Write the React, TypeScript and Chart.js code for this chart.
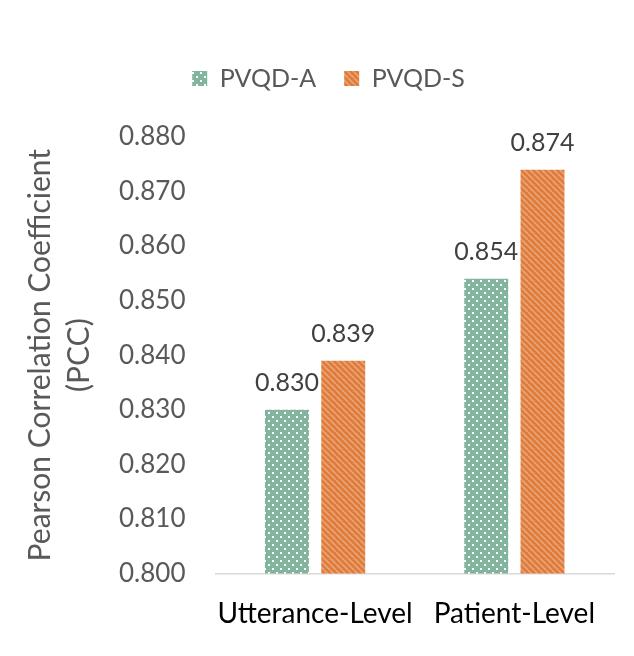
import React, { useEffect, useRef } from "react";
import { Chart, registerables } from "chart.js";

Chart.register(...registerables);

const categories = ["Utterance-Level", "Patient-Level"];
const seriesNames = ["PVQD-A", "PVQD-S"];
const pvqdA = [0.83, 0.854];
const pvqdS = [0.839, 0.874];
const yTicks = [0.8, 0.81, 0.82, 0.83, 0.84, 0.85, 0.86, 0.87, 0.88];

const FONT = "Lato, 'DejaVu Sans', sans-serif";

function dotPattern(): CanvasPattern | string {
  const c = document.createElement("canvas");
  c.width = 8;
  c.height = 8;
  const g = c.getContext("2d");
  if (!g) return "#82B49E";
  g.fillStyle = "#82B49E";
  g.fillRect(0, 0, 8, 8);
  g.fillStyle = "#ffffff";
  g.fillRect(0, 0, 2, 2);
  g.fillRect(4, 4, 2, 2);
  return g.createPattern(c, "repeat") || "#82B49E";
}

function stripePattern(): CanvasPattern | string {
  const c = document.createElement("canvas");
  c.width = 6;
  c.height = 6;
  const g = c.getContext("2d");
  if (!g) return "#E07B39";
  g.fillStyle = "#E07B39";
  g.fillRect(0, 0, 6, 6);
  g.strokeStyle = "#E9A47A";
  g.lineWidth = 1.6;
  for (let k = -6; k <= 12; k += 6) {
    g.beginPath();
    g.moveTo(k, 0);
    g.lineTo(k + 6, 6);
    g.stroke();
  }
  return g.createPattern(c, "repeat") || "#E07B39";
}

const valueLabels = {
  id: "valueLabels",
  afterDatasetsDraw(chart: any) {
    const ctx = chart.ctx;
    ctx.save();
    ctx.font = `25px ${FONT}`;
    ctx.fillStyle = "#404040";
    ctx.textAlign = "center";
    ctx.textBaseline = "alphabetic";
    chart.data.datasets.forEach((ds: any, i: number) => {
      const meta = chart.getDatasetMeta(i);
      meta.data.forEach((bar: any, j: number) => {
        ctx.fillText(Number(ds.data[j]).toFixed(3), bar.x, bar.y - 19);
      });
    });
    ctx.restore();
  },
};

const legendShift = {
  id: "legendShift",
  afterLayout(chart: any) {
    const lg = chart.legend;
    if (lg) {
      lg.left += 11;
      lg.right += 11;
    }
  },
};

export default function App() {
  const ref = useRef<HTMLCanvasElement | null>(null);
  useEffect(() => {
    if (!ref.current) return;
    const chart = new Chart(ref.current, {
      type: "bar",
      data: {
        labels: categories,
        datasets: [
          {
            label: seriesNames[0],
            data: pvqdA,
            backgroundColor: dotPattern() as any,
            barPercentage: 0.78,
            categoryPercentage: 0.565,
          },
          {
            label: seriesNames[1],
            data: pvqdS,
            backgroundColor: stripePattern() as any,
            barPercentage: 0.78,
            categoryPercentage: 0.565,
          },
        ],
      },
      options: {
        responsive: false,
        animation: false,
        layout: { padding: { top: 38, left: 21, right: 20, bottom: 9 } },
        plugins: {
          legend: {
            position: "top",
            labels: {
              font: { size: 25, family: FONT },
              color: "#595959",
              boxWidth: 15,
              boxHeight: 15,
              padding: 28,
            },
          },
          tooltip: { enabled: false },
        },
        scales: {
          x: {
            grid: { display: false },
            border: { display: true, color: "#D9D9D9", width: 1.5 },
            ticks: {
              font: { size: 28, family: FONT },
              color: "#000000",
              padding: 16,
              maxRotation: 0,
              minRotation: 0,
              autoSkip: false,
            },
            afterFit: (s: any) => {
              s.paddingLeft = 0;
              s.paddingRight = 0;
            },
          },
          y: {
            min: 0.8,
            max: 0.88,
            afterBuildTicks: (axis: any) => {
              axis.ticks = yTicks.map((v) => ({ value: v }));
            },
            grid: {
              display: true,
              drawOnChartArea: false,
              drawTicks: true,
              tickLength: 30,
              tickColor: "rgba(0,0,0,0)",
            },
            border: { display: false },
            ticks: {
              font: { size: 26, family: FONT },
              color: "#595959",
              padding: 0,
              callback: (v: any) => Number(v).toFixed(3),
            },
            title: {
              display: true,
              text: ["Pearson Correlation Coefficient", "(PCC)"],
              font: { size: 30, family: FONT, lineHeight: 1.3 },
              color: "#595959",
              padding: { top: 0, bottom: 20 },
            },
          },
        },
      },
      plugins: [valueLabels, legendShift],
    });
    const lg: any = (chart as any).legend;
    if (lg) {
      const orig = lg.fit.bind(lg);
      lg.fit = function () {
        orig();
        this.height += 36;
      };
      chart.update();
    }
    return () => chart.destroy();
  }, []);
  return (
    <div style={{ position: "fixed", left: 0, top: 0, width: 634, height: 656, background: "#fff" }}>
      <canvas ref={ref} width={634} height={656} style={{ width: 634, height: 656 }} />
    </div>
  );
}
